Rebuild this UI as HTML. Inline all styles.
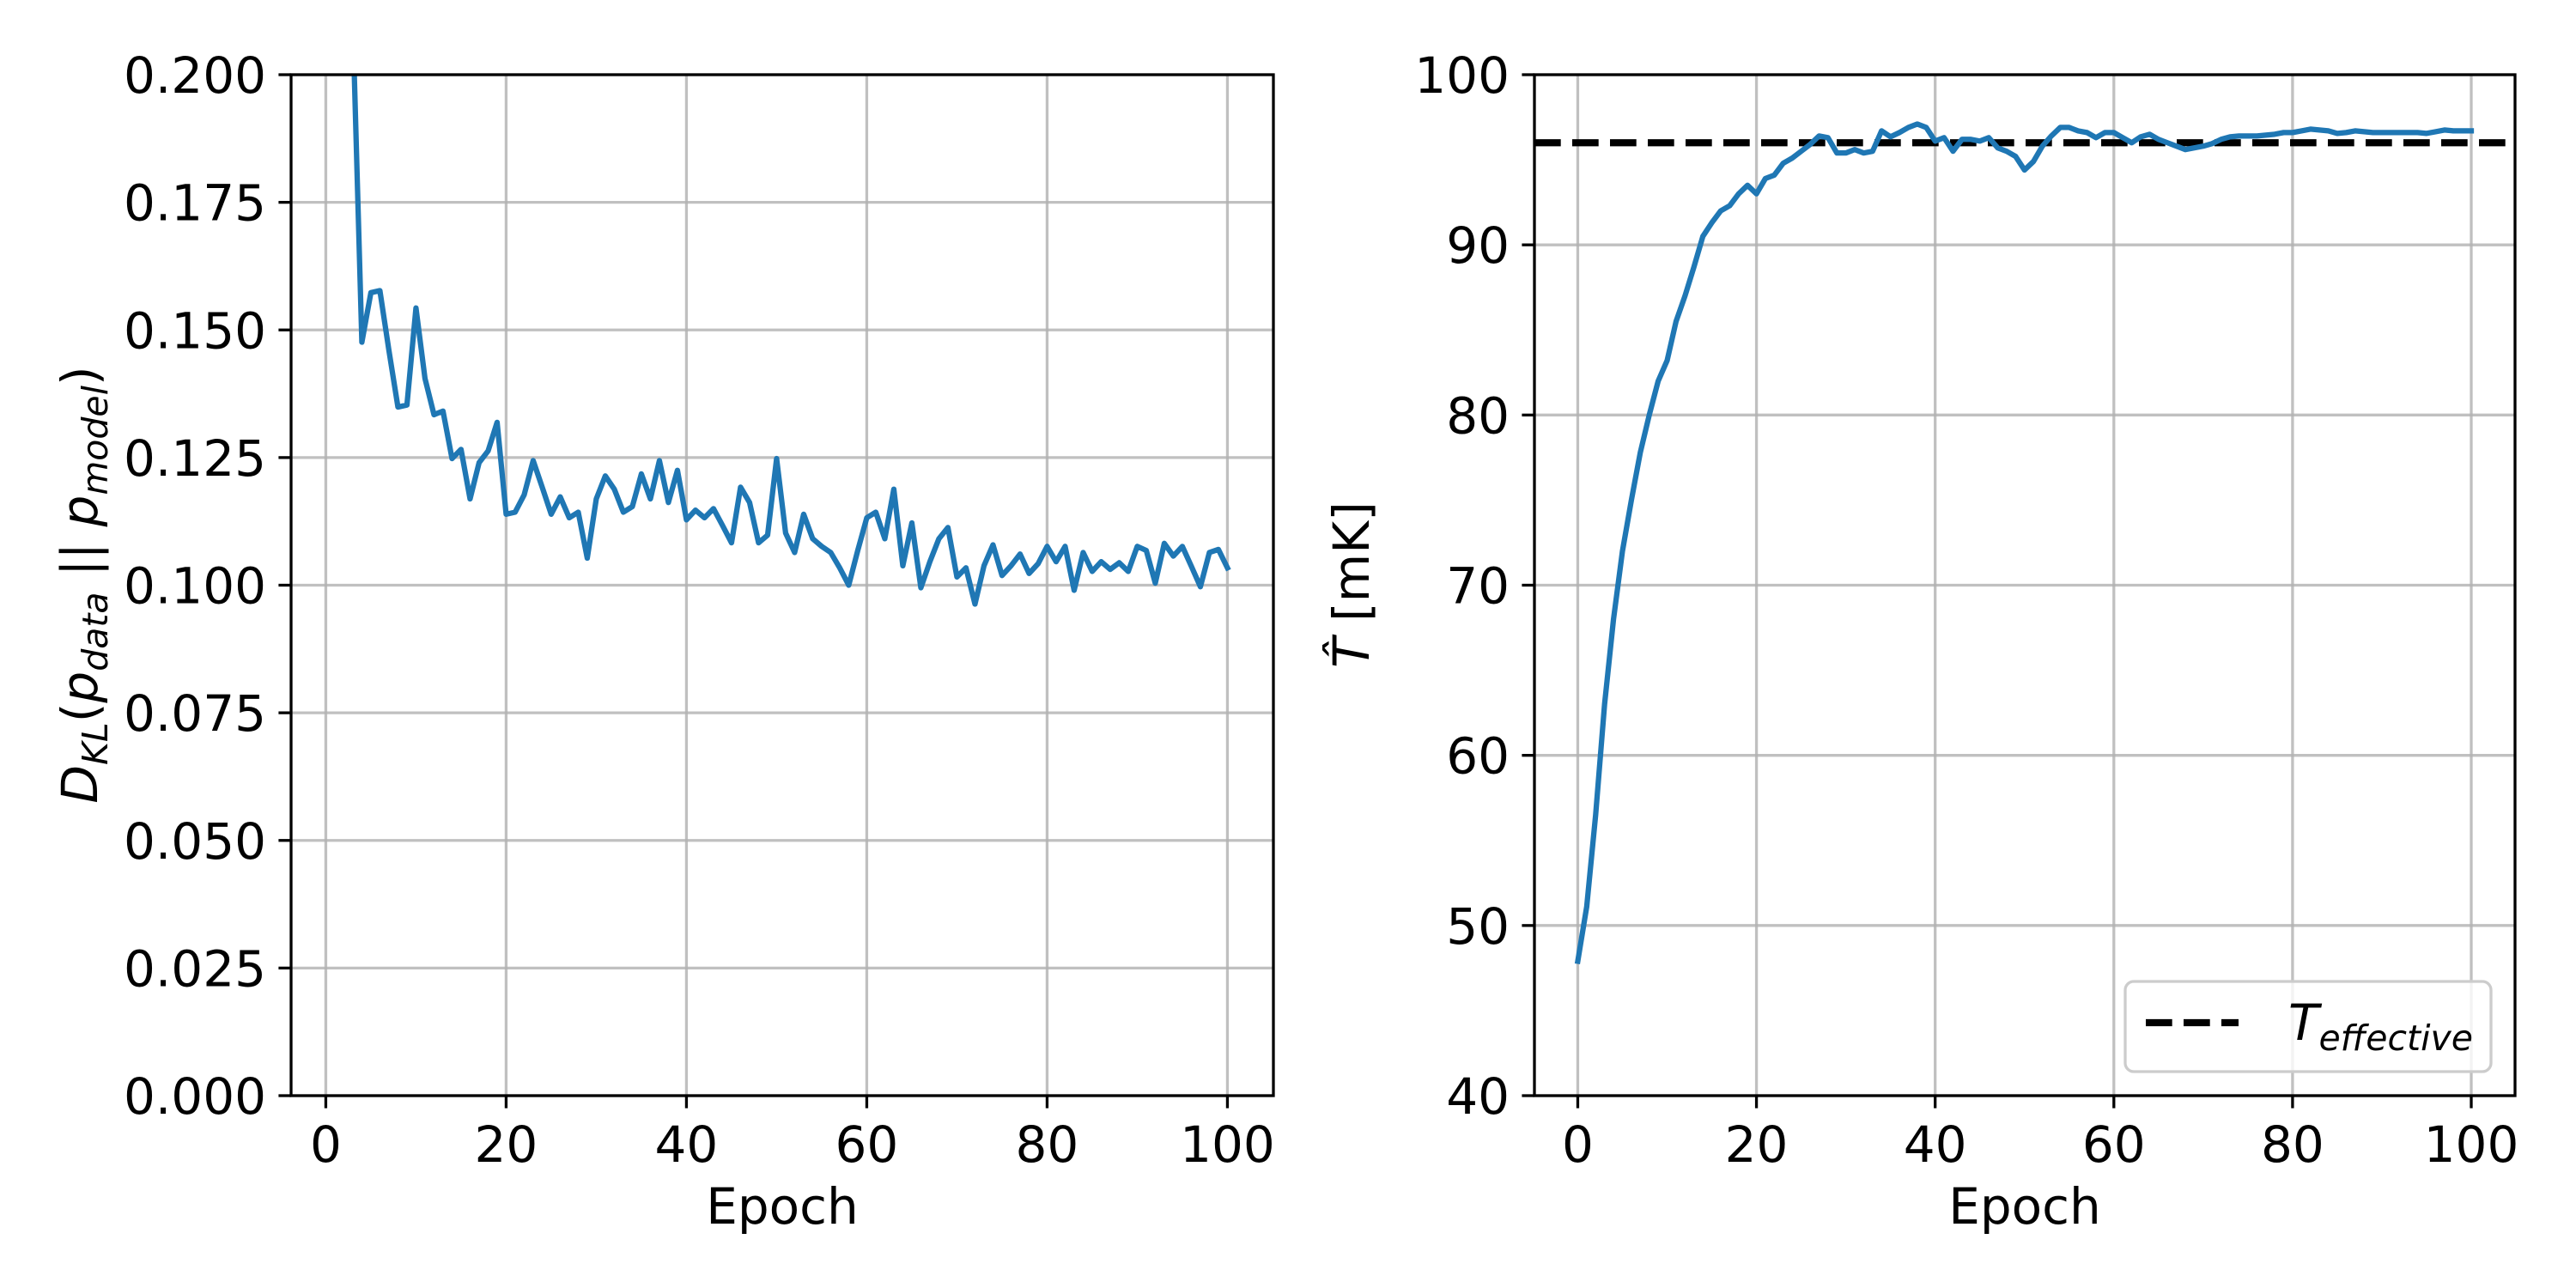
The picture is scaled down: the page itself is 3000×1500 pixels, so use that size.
<!DOCTYPE html>
<html><head><meta charset="utf-8"><style>
html,body{margin:0;padding:0;background:#fff;}
svg{display:block;font-family:"DejaVu Sans","Liberation Sans",sans-serif;}
</style></head><body>
<svg id="fig" width="3000" height="1500" viewBox="0 0 3000 1500" xmlns="http://www.w3.org/2000/svg">
<defs>
<clipPath id="clipL"><rect x="339" y="87" width="1144" height="1189"/></clipPath>
<clipPath id="clipR"><rect x="1787" y="87" width="1142" height="1189"/></clipPath>
</defs>
<g id="left"></g>
<g id="right"></g>
</svg>
<script>
const epochsL = Array.from({length:101},(_, i)=>i);
const klValues = [0.5,0.35,0.26,0.21,0.1476,0.1573,0.1577,0.146,0.1349,0.1353,0.1543,0.1405,0.1334,0.1341,0.1248,0.1266,0.1169,0.1240,0.1263,0.1319,0.1139,0.1143,0.1177,0.1244,0.1192,0.1139,0.1173,0.1132,0.1143,0.1053,0.1169,0.1214,0.1188,0.1143,0.1154,0.1218,0.1169,0.1244,0.1162,0.1225,0.1128,0.1147,0.1132,0.1150,0.1117,0.1083,0.1192,0.1162,0.1083,0.1098,0.1248,0.1102,0.1064,0.1139,0.1091,0.1076,0.1064,0.1034,0.1000,0.1068,0.1132,0.1143,0.1091,0.1188,0.1038,0.1122,0.0995,0.1046,0.1091,0.1113,0.1016,0.1034,0.0963,0.1038,0.1079,0.1019,0.1038,0.1061,0.1023,0.1042,0.1076,0.1046,0.1076,0.0990,0.1064,0.1027,0.1046,0.1031,0.1044,0.1027,0.1076,0.1068,0.1004,0.1082,0.1057,0.1076,0.1037,0.0997,0.1064,0.1070,0.1034];
const tempValues = [47.9,51.1,56.5,63,68,72,75,77.8,80,82,83.2,85.5,87,88.7,90.5,91.3,92,92.3,93,93.5,93,93.9,94.1,94.8,95.1,95.5,95.9,96.4,96.3,95.4,95.4,95.6,95.4,95.5,96.7,96.35,96.6,96.9,97.1,96.9,96.1,96.3,95.5,96.2,96.2,96.1,96.3,95.7,95.5,95.2,94.4,94.9,95.8,96.4,96.9,96.9,96.7,96.6,96.3,96.6,96.6,96.3,96,96.35,96.5,96.2,96,95.8,95.6,95.7,95.8,95.95,96.2,96.35,96.4,96.4,96.4,96.45,96.5,96.6,96.6,96.7,96.8,96.75,96.7,96.55,96.6,96.7,96.65,96.6,96.6,96.6,96.6,96.6,96.6,96.55,96.65,96.75,96.7,96.7,96.7];
const tEffective = 96;
const xTicks = [0,20,40,60,80,100];
const yTicksL = [0,0.025,0.05,0.075,0.1,0.125,0.15,0.175,0.2];
const yTickLabelsL = ["0.000","0.025","0.050","0.075","0.100","0.125","0.150","0.175","0.200"];
const yTicksR = [40,50,60,70,80,90,100];
const yTickLabelsR = ["40","50","60","70","80","90","100"];

const NS="http://www.w3.org/2000/svg";
const FS=58;
function mk(tag, attrs, parent){const e=document.createElementNS(NS,tag);for(const k in attrs)e.setAttribute(k,attrs[k]);parent.appendChild(e);return e;}

function panel(g, box, xDom, yDom, yTicks, yLabels, clip){
  const sx=v=>box.x0+(v-xDom[0])/(xDom[1]-xDom[0])*(box.x1-box.x0);
  const sy=v=>box.y1-(v-yDom[0])/(yDom[1]-yDom[0])*(box.y1-box.y0);
  const grid=mk('g',{},g);
  
  
  xTicks.forEach(t=>{
    const l=mk('line',{x1:sx(t),x2:sx(t),y1:box.y0,y2:box.y1,stroke:'#b0b0b0','stroke-width':3.3,'stroke-opacity':0.8},grid);
    
    
  });
  yTicks.forEach(t=>{
    const l=mk('line',{x1:box.x0,x2:box.x1,y1:sy(t),y2:sy(t),stroke:'#b0b0b0','stroke-width':3.3,'stroke-opacity':0.8},grid);
    
    
  });
  const ax=mk('g',{},g);
  
  
  xTicks.forEach(t=>{
    mk('line',{x1:sx(t),x2:sx(t),y1:box.y1,y2:box.y1+14.6,stroke:'#000','stroke-width':3.3},ax);
    const tx=mk('text',{x:sx(t),y:box.y1+77,'font-size':FS,'text-anchor':'middle',fill:'#000'},ax);
    tx.textContent=t;
    
    
  });
  yTicks.forEach((t,i)=>{
    mk('line',{x1:box.x0-14.6,x2:box.x0,y1:sy(t),y2:sy(t),stroke:'#000','stroke-width':3.3},ax);
    const tx=mk('text',{x:box.x0-29,y:sy(t)+21,'font-size':FS,'text-anchor':'end',fill:'#000'},ax);
    tx.textContent=yLabels[i];
    
    
  });
  const cg=mk('g',{'clip-path':'url(#'+clip+')'},g);
  return {sx,sy,cg,ax};
}

// left panel
const gL=document.getElementById('left');
const boxL={x0:339,x1:1483,y0:87,y1:1276};
const L=panel(gL,boxL,[-3.85,105.1],[0,0.2],yTicksL,yTickLabelsL,'clipL');
const pL=mk('polyline',{points:epochsL.map((e,i)=>L.sx(e)+','+L.sy(klValues[i])).join(' '),fill:'none',stroke:'#1f77b4','stroke-width':6.25,'stroke-linejoin':'round','stroke-linecap':'square'},L.cg);


const spL=mk('rect',{x:boxL.x0,y:boxL.y0,width:boxL.x1-boxL.x0,height:boxL.y1-boxL.y0,fill:'none',stroke:'#000','stroke-width':3.3},gL);


const xlL=mk('text',{x:(boxL.x0+boxL.x1)/2,y:1425,'font-size':FS,'text-anchor':'middle'},gL);
xlL.textContent='Epoch';


const ylL=mk('text',{x:0,y:0,'font-size':FS,'text-anchor':'middle',transform:'translate(113,681) rotate(-90)'},gL);
ylL.innerHTML='<tspan font-style="italic">D</tspan><tspan font-style="italic" font-size="41" dy="12">KL</tspan><tspan dy="-12">(</tspan><tspan font-style="italic">p</tspan><tspan font-style="italic" font-size="41" dy="12">data</tspan><tspan dy="-12"> || </tspan><tspan font-style="italic">p</tspan><tspan font-style="italic" font-size="41" dy="12">model</tspan><tspan dy="-12">)</tspan>';



// right panel
const gR=document.getElementById('right');
const boxR={x0:1787,x1:2929,y0:87,y1:1276};
const R=panel(gR,boxR,[-4.85,104.9],[40,100],yTicksR,yTickLabelsR,'clipR');
const dash=mk('line',{x1:boxR.x0,x2:boxR.x1,y1:R.sy(tEffective),y2:R.sy(tEffective),stroke:'#000','stroke-width':8.3,'stroke-dasharray':'30.7 13.3'},R.cg);


const pR=mk('polyline',{points:epochsL.map((e,i)=>R.sx(e)+','+R.sy(tempValues[i])).join(' '),fill:'none',stroke:'#1f77b4','stroke-width':6.25,'stroke-linejoin':'round','stroke-linecap':'square'},R.cg);


const spR=mk('rect',{x:boxR.x0,y:boxR.y0,width:boxR.x1-boxR.x0,height:boxR.y1-boxR.y0,fill:'none',stroke:'#000','stroke-width':3.3},gR);


const xlR=mk('text',{x:(boxR.x0+boxR.x1)/2,y:1425,'font-size':FS,'text-anchor':'middle'},gR);
xlR.textContent='Epoch';


const ylR=mk('text',{x:0,y:0,'font-size':FS,'text-anchor':'middle',transform:'translate(1594,681) rotate(-90)'},gR);
ylR.innerHTML='<tspan font-style="italic">T\u0302</tspan><tspan> [mK]</tspan>';



// legend
const lg=mk('g',{},gR);


mk('rect',{x:2475,y:1143,width:426,height:105,rx:10,fill:'#fff','fill-opacity':0.8,stroke:'#cccccc','stroke-width':3.3},lg);
mk('line',{x1:2499,x2:2607,y1:1191,y2:1191,stroke:'#000','stroke-width':8.3,'stroke-dasharray':'30.7 13.3'},lg);
const lt=mk('text',{x:2665,y:1211,'font-size':FS},lg);
lt.innerHTML='<tspan font-style="italic">T</tspan><tspan font-style="italic" font-size="41" dy="12">effective</tspan>';


</script>
</body></html>
